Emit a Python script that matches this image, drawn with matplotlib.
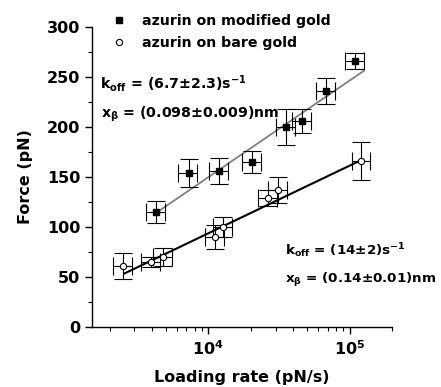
import numpy as np
import matplotlib
matplotlib.use("Agg")
import matplotlib.pyplot as plt
from matplotlib.lines import Line2D

plt.rcParams['font.family'] = ['DejaVu Sans']
plt.rcParams['font.weight'] = 'bold'
plt.rcParams['mathtext.fontset'] = 'custom'
plt.rcParams['mathtext.rm'] = 'DejaVu Sans:bold'
plt.rcParams['mathtext.it'] = 'DejaVu Sans:bold'
plt.rcParams['mathtext.bf'] = 'DejaVu Sans:bold'
plt.rcParams['mathtext.default'] = 'rm'

# ---- data ----
mod_rate = [4280, 7250, 12000, 20400, 35700, 46400, 68400, 110000]
mod_force = [115, 154, 156, 165, 200, 206, 236, 266]
mod_force_err = [11, 14, 13, 11, 18, 12, 13, 8]
mod_rate_relerr = [0.155, 0.155, 0.155, 0.155, 0.155, 0.155, 0.155, 0.155]

bare_rate = [2500, 3950, 4780, 11200, 12700, 26500, 31200, 121600]
bare_force = [61, 65, 70, 90, 100, 129, 137, 166]
bare_force_err = [13, 5, 9, 12, 10, 8, 13, 19]
bare_rate_relerr = [0.155, 0.155, 0.155, 0.155, 0.155, 0.155, 0.155, 0.14]

# Bell-Evans fit parameters (from annotations)
kT = 4.11  # pN nm
mod_koff, mod_xb = 6.7, 0.098
bare_koff, bare_xb = 14.0, 0.14
mod_fit_range = [4280, 126000]
bare_fit_range = [2540, 113500]

labels = ['azurin on modified gold', 'azurin on bare gold']
xtick_vals = [1e4, 1e5]
xtick_labels = [r'$\mathbf{10^{4}}$', r'$\mathbf{10^{5}}$']

# ---- figure ----
W, H = 441, 387
fig = plt.figure(figsize=(W / 100, H / 100), dpi=100)
ax = fig.add_axes([92 / W, 1 - 327 / H, 300 / W, 300 / H])

def bell(r, koff, xb):
    return kT / xb * np.log(r * xb / (koff * kT))

r = np.logspace(np.log10(mod_fit_range[0]), np.log10(mod_fit_range[1]), 50)
ax.plot(r, bell(r, mod_koff, mod_xb), color='#808080', lw=1.3, zorder=2)
r = np.logspace(np.log10(bare_fit_range[0]), np.log10(bare_fit_range[1]), 50)
ax.plot(r, bell(r, bare_koff, bare_xb), color='black', lw=1.5, zorder=2)

mr = np.array(mod_rate)
ax.errorbar(mr, mod_force, yerr=mod_force_err, xerr=mr * np.array(mod_rate_relerr),
            fmt='s', ms=4.2, mfc='black', mec='black', ecolor='black',
            elinewidth=0.8, capsize=6.5, capthick=0.8, zorder=3)
br = np.array(bare_rate)
ax.errorbar(br, bare_force, yerr=bare_force_err, xerr=br * np.array(bare_rate_relerr),
            fmt='o', ms=4.5, mfc='white', mec='black', mew=0.8, ecolor='black',
            elinewidth=0.8, capsize=6.5, capthick=0.8, zorder=3)

ax.set_xscale('log')
ax.set_xlim(1500, 2e5)
ax.set_ylim(0, 300)
ax.set_yticks(np.arange(0, 301, 50))
ax.set_yticks(np.arange(0, 301, 25), minor=True)
ax.set_xticks(xtick_vals)
ax.set_xticklabels(xtick_labels)
for s in ['top', 'right']:
    ax.spines[s].set_visible(False)
for s in ['left', 'bottom']:
    ax.spines[s].set_linewidth(1.0)
ax.tick_params(axis='both', which='major', direction='out', length=5, width=1.0,
               labelsize=11.5)
ax.tick_params(axis='both', which='minor', direction='out', length=3, width=0.8)
ax.tick_params(axis='x', which='minor', labelbottom=False)
for t in ax.get_yticklabels() + ax.get_xticklabels():
    t.set_fontweight('bold')

ax.set_xlabel('Loading rate (pN/s)', fontsize=11.5, fontweight='bold', labelpad=9)
ax.set_ylabel('Force (pN)', fontsize=11.5, fontweight='bold', labelpad=10)

handles = [Line2D([], [], marker='s', ls='none', ms=4.2, mfc='black', mec='black'),
           Line2D([], [], marker='o', ls='none', ms=4.5, mfc='white', mec='black', mew=0.8)]
fig.legend(handles, labels, loc='upper left', bbox_to_anchor=(102 / W, 1 - 4 / H),
           frameon=False, handlelength=1.0, handletextpad=1.1,
           labelspacing=0.55, borderpad=0.2, prop={'weight': 'bold', 'size': 10.2})

def ftxt(x, y, s, size=10.2):
    fig.text(x / W, 1 - y / H, s, fontsize=size, fontweight='bold', ha='left', va='baseline')

ftxt(100, 89, r'k$_{\mathsf{off}}$ = (6.7$\pm$2.3)s$^{\mathsf{-1}}$')
ftxt(101, 118, r'x$_{\beta}$ = (0.098$\pm$0.009)nm')
ftxt(285, 255, r'k$_{\mathsf{off}}$ = (14$\pm$2)s$^{\mathsf{-1}}$', 9.7)
ftxt(285, 283, r'x$_{\beta}$ = (0.14$\pm$0.01)nm', 9.7)

fig.savefig('out.png', dpi=100)
